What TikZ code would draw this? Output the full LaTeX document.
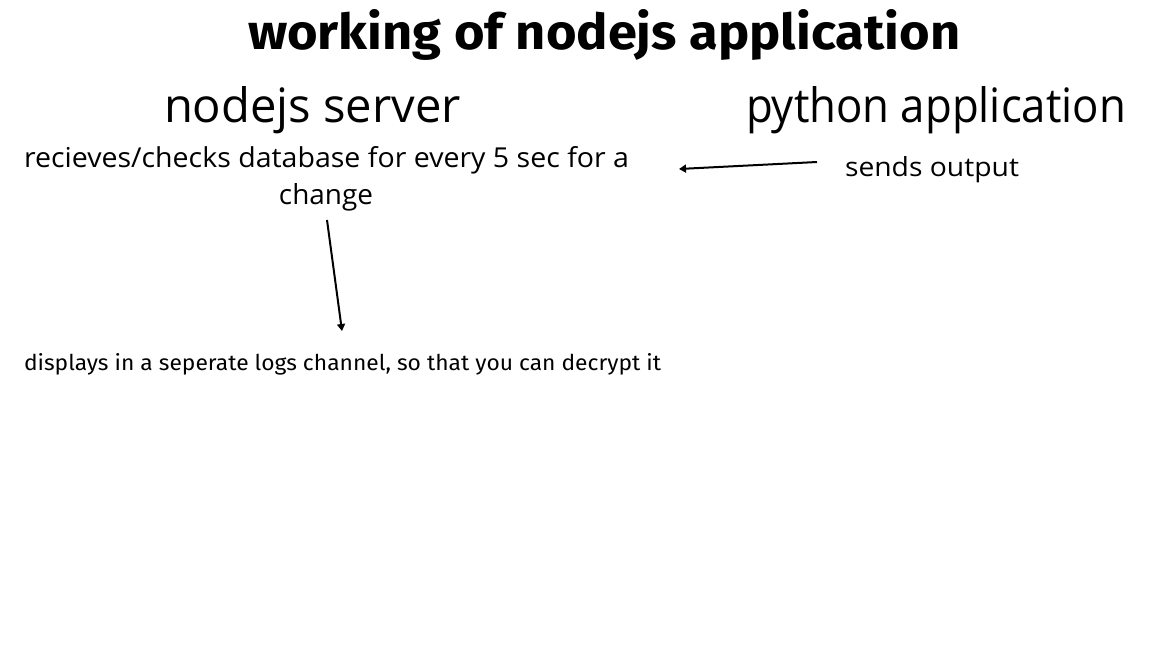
\documentclass[tikz,border=0pt]{standalone}
\usepackage{fontspec}
\setmainfont{Open Sans}
\newfontfamily\titlefont{Fira Sans}
\usetikzlibrary{arrows.meta}
\tikzset{
  txt/.style={inner sep=0pt, outer sep=0pt, anchor=base west, text=black},
  conn/.style={line width=2pt, -{Triangle[length=7pt,width=8pt]}, black},
}
\begin{document}
\begin{tikzpicture}[x=1pt,y=-1pt]
\useasboundingbox[fill=white] (0,0) rectangle (1156,646);
% title
\node[txt] (title) at (248,49) {\resizebox{712pt}{40pt}{\titlefont\bfseries working of nodejs application}};
% headings
\node[txt] (nodejs) at (164,122) {\resizebox{297pt}{36pt}{nodejs server}};
\node[txt] (python) at (746,122) {\resizebox{380pt}{36pt}{python application}};
% body texts
\node[txt] (recv) at (24,167) {\resizebox{605pt}{21pt}{recieves/checks database for every 5 sec for a}};
\node[txt, anchor=base] (change) at (326,204) {\resizebox{94pt}{21pt}{change}};
\node[txt] (sends) at (845,176) {\resizebox{174pt}{20pt}{sends output}};
\node[txt] (disp) at (24,370) {\resizebox{637pt}{17pt}{\titlefont displays in a seperate logs channel, so that you can decrypt it}};
% connector ends
\coordinate (a1s) at (817,162);
\coordinate (a1e) at (679,169);
\coordinate (a2s) at (327,220);
\coordinate (a2e) at (342,331);
\draw[conn] (a1s) -- (a1e);
\draw[conn] (a2s) -- (a2e);
\end{tikzpicture}
\end{document}
